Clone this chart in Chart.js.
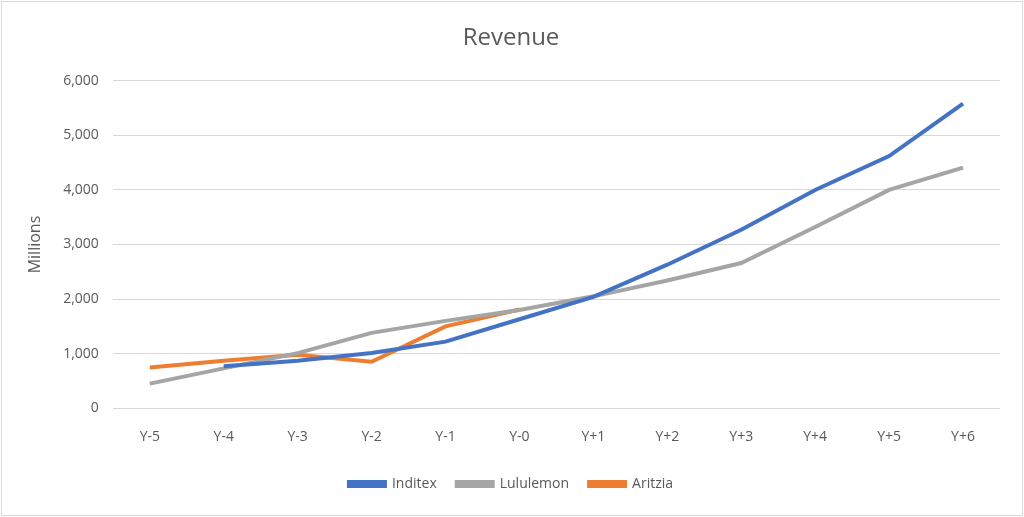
<!DOCTYPE html>
<html>
<head>
<meta charset="utf-8">
<script src="https://cdn.jsdelivr.net/npm/chart.js@4"></script>
<style>
  html, body { margin: 0; padding: 0; background: #fff; }
  #wrap { position: absolute; left: 1px; top: 1px; width: 1020px; height: 513px; border: 1px solid #d9d9d9; }
</style>
</head>
<body>
<div id="wrap"><canvas id="revenueChart"></canvas></div>
<script>
var labels = ["Y-5", "Y-4", "Y-3", "Y-2", "Y-1", "Y-0", "Y+1", "Y+2", "Y+3", "Y+4", "Y+5", "Y+6"];
var inditex = [null, 770, 870, 1010, 1220, 1630, 2040, 2630, 3270, 4000, 4620, 5580];
var lululemon = [450, 730, 1010, 1380, 1600, 1800, 2050, 2340, 2660, 3320, 4000, 4410];
var aritzia = [745, 870, 980, 850, 1500, 1810, null, null, null, null, null, null];

function series(label, data, color) {
    return {
        label: label,
        data: data,
        borderColor: color,
        backgroundColor: color,
        borderWidth: 4,
        pointRadius: 0,
        tension: 0,
        fill: false
    };
}

new Chart(document.getElementById('revenueChart'), {
    type: 'line',
    data: {
        labels: labels,
        datasets: [
            series('Inditex', inditex, '#4472c4'),
            series('Lululemon', lululemon, '#a5a5a5'),
            series('Aritzia', aritzia, '#ed7d31')
        ]
    },
    options: {
        responsive: true,
        maintainAspectRatio: false,
        animation: false,
        layout: { padding: { left: 20, right: 22, top: 12, bottom: 14 } },
        plugins: {
            title: {
                display: true,
                text: 'Revenue',
                color: '#595959',
                font: { family: 'Open Sans', size: 24, weight: 'normal' },
                padding: { top: 10, bottom: 28 }
            },
            legend: {
                position: 'bottom',
                labels: {
                    color: '#595959',
                    font: { family: 'Open Sans', size: 14 },
                    boxWidth: 36,
                    boxHeight: 4,
                    padding: 20
                }
            },
            tooltip: { enabled: false }
        },
        scales: {
            x: {
                offset: true,
                grid: { display: false },
                border: { display: false },
                ticks: { color: '#595959', font: { family: 'Open Sans', size: 14 }, padding: 12 }
            },
            y: {
                min: 0,
                max: 6000,
                ticks: {
                    stepSize: 1000,
                    color: '#595959',
                    font: { family: 'Open Sans', size: 14 },
                    padding: 14,
                    callback: function (v) { return v.toLocaleString('en-US'); }
                },
                grid: { color: '#d9d9d9', drawTicks: false },
                border: { display: false },
                title: {
                    display: true,
                    text: 'Millions',
                    color: '#595959',
                    font: { family: 'Open Sans', size: 16 }
                }
            }
        }
    }
});
</script>
</body>
</html>
